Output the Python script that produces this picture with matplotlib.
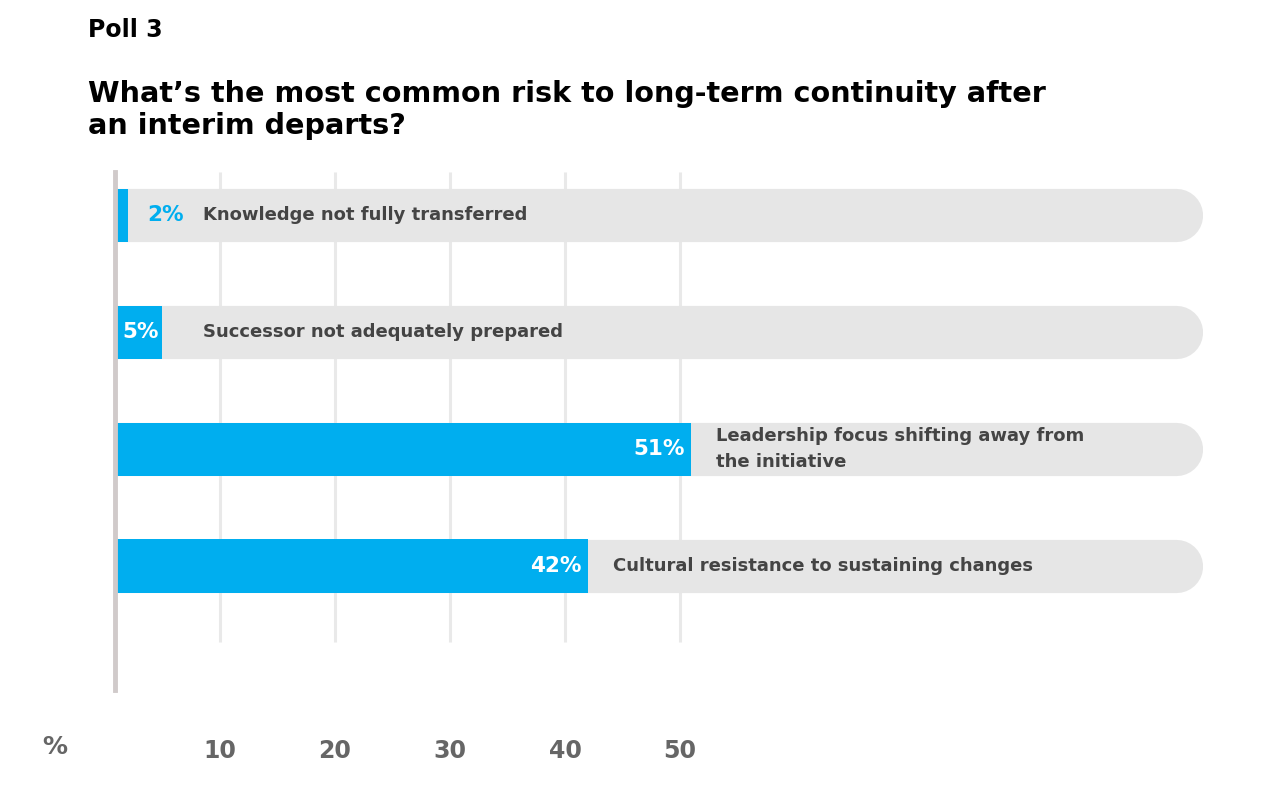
import matplotlib
matplotlib.use("Agg")
import matplotlib.pyplot as plt
from matplotlib.lines import Line2D

categories = [
    "Knowledge not fully transferred",
    "Successor not adequately prepared",
    "Leadership focus shifting away from\nthe initiative",
    "Cultural resistance to sustaining changes",
]
values = [2, 5, 51, 42]
ticks = [10, 20, 30, 40, 50]
tick_labels = ["10", "20", "30", "40", "50"]

BLUE = "#00AEEF"
TRACK = "#E6E6E6"
GRID = "#E9E9E9"
LABEL = "#444444"
TICK = "#666666"

plt.rcParams["font.family"] = ["DejaVu Sans"]

fig = plt.figure(figsize=(12.8, 8), dpi=100)
ax = fig.add_axes([0.0898, 0.1375, 0.8547, 0.6475])

XMIN, XMAX = 0.87, 96
ax.set_xlim(XMIN, XMAX)
ax.set_ylim(4.06, -0.37)

bar_h = 0.455
track_end = 93.1

# gridlines
ax.vlines(ticks, -0.37, 3.65, color=GRID, lw=2.2, zorder=0)

ys = list(range(len(values)))
px_per_unit = (ax.get_position().width * 1280) / (XMAX - XMIN)
track_lw = bar_h * (ax.get_position().height * 800) / (4.06 + 0.37) * 0.72

for y, v, cat in zip(ys, values, categories):
    ln = Line2D([XMIN - 3, track_end], [y, y], color=TRACK, lw=track_lw,
                solid_capstyle="round", zorder=1)
    ax.add_line(ln)
    ax.barh(y, v, height=bar_h, left=0, color=BLUE, zorder=2)
    if v >= 5:
        ax.annotate(f"{v}%", xy=(v, y), xytext=(-5 if v > 10 else -3, 0),
                    textcoords="offset points", ha="right", va="center",
                    color="white", fontsize=15.5, fontweight="bold", zorder=3)
    else:
        ax.annotate(f"{v}%", xy=(v, y), xytext=(14, 0),
                    textcoords="offset points", ha="left", va="center",
                    color=BLUE, fontsize=15.5, fontweight="bold", zorder=3)
    lx = max(v + 25 / px_per_unit, 8.5)
    ax.text(lx, y, cat, ha="left", va="center", color=LABEL, fontsize=13,
            fontweight="bold", linespacing=1.55, zorder=3)

for s in ["top", "right", "bottom"]:
    ax.spines[s].set_visible(False)
ax.spines["left"].set_color("#D0CACA")
ax.spines["left"].set_linewidth(3.5)

ax.set_yticks([])
ax.set_xticks(ticks)
ax.set_xticklabels(tick_labels, fontsize=17, fontweight="bold", color=TICK)
ax.tick_params(axis="x", length=0, pad=35)

fig.text(55 / 1280, 1 - 747 / 800, "%", ha="center", va="center",
         fontsize=18, fontweight="bold", color=TICK)

fig.text(88 / 1280, 1 - 30 / 800, "Poll 3", ha="left", va="center",
         fontsize=17, fontweight="bold", color="black")
fig.text(88 / 1280, 1 - 110 / 800,
         "What\u2019s the most common risk to long-term continuity after\nan interim departs?",
         ha="left", va="center", fontsize=20.6, fontweight="bold", color="black",
         linespacing=1.17)

fig.savefig("out.png", dpi=100, facecolor="white")
